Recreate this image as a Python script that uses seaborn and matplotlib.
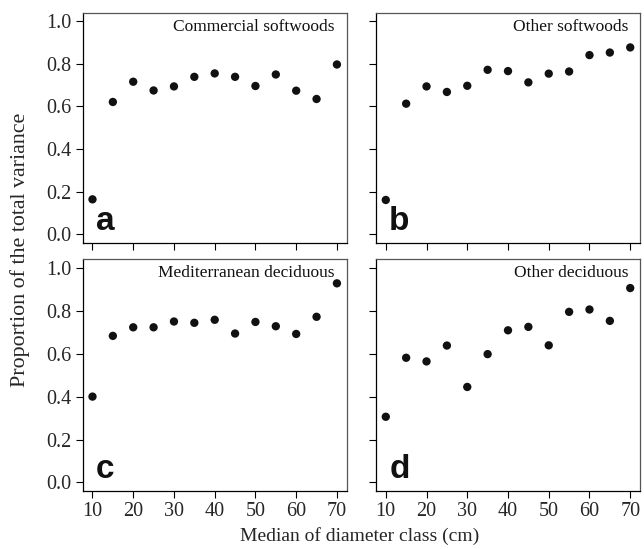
import matplotlib
matplotlib.use("Agg")
import matplotlib.pyplot as plt
import seaborn as sns

sns.set_theme(style="white")
plt.rcParams['font.family'] = ['Liberation Serif', 'DejaVu Serif']

# median of diameter class (cm)
diam = [10, 15, 20, 25, 30, 35, 40, 45, 50, 55, 60, 65, 70]

# proportion of the total variance per forest type
commercial_softwoods = [0.164, 0.621, 0.716, 0.675, 0.694, 0.739, 0.755, 0.739, 0.696, 0.750, 0.674, 0.635, 0.797]
other_softwoods = [0.161, 0.613, 0.694, 0.668, 0.697, 0.772, 0.766, 0.713, 0.754, 0.764, 0.841, 0.853, 0.877]
mediterranean_deciduous = [0.400, 0.683, 0.723, 0.723, 0.750, 0.744, 0.758, 0.694, 0.748, 0.728, 0.692, 0.772, 0.928]
other_deciduous = [0.306, 0.581, 0.564, 0.638, 0.445, 0.598, 0.709, 0.725, 0.639, 0.795, 0.806, 0.753, 0.906]

panels = [
    ("Commercial softwoods", "a", commercial_softwoods),
    ("Other softwoods", "b", other_softwoods),
    ("Mediterranean deciduous", "c", mediterranean_deciduous),
    ("Other deciduous", "d", other_deciduous),
]

yticks = [0.0, 0.2, 0.4, 0.6, 0.8, 1.0]
xticks = [10, 20, 30, 40, 50, 60, 70]

W, H = 644, 549
fig = plt.figure(figsize=(6.44, 5.49), dpi=100)

# axes boxes in pixels: left, right, top, bottom
boxes = [
    (82.7, 346.7, 12.7, 242.8),
    (376, 640, 12.7, 242.8),
    (82.7, 346.7, 259.3, 491),
    (376, 640, 259.3, 491),
]

for i, ((title, letter, vals), (l, r, t, b)) in enumerate(zip(panels, boxes)):
    ax = fig.add_axes([l / W, 1 - b / H, (r - l) / W, (b - t) / H])
    sns.scatterplot(x=diam, y=vals, ax=ax, color="#111111", s=36,
                    edgecolor="none", linewidth=0)
    ax.set_xlim(7.6, 72.4)
    ax.set_ylim(-0.04, 1.04)
    ax.set_xticks(xticks)
    ax.set_yticks(yticks)
    ax.tick_params(direction="out", length=5, width=0.8, color="black",
                   labelsize=14.5, pad=3, left=True, bottom=True)
    if i % 2 == 0:
        ax.set_yticklabels([f"{v:.1f}" for v in yticks])
    else:
        ax.set_yticklabels([])
    if i >= 2:
        ax.set_xticklabels([str(v) for v in xticks])
    else:
        ax.set_xticklabels([])
    for side in ["left", "bottom"]:
        ax.spines[side].set_color("black")
        ax.spines[side].set_linewidth(0.9)
    for side in ["top", "right"]:
        ax.spines[side].set_color("#555555")
        ax.spines[side].set_linewidth(0.9)
    ax.text(0.955, 0.94, title, transform=ax.transAxes, ha="right", va="center",
            fontsize=12.5, color="#111111")
    ax.text(0.05, 0.055, letter, transform=ax.transAxes, ha="left", va="baseline",
            fontsize=24, fontweight="bold", family="Liberation Sans", color="#111111")

fig.text(20 / W, 1 - 250 / H, "Proportion of the total variance",
         rotation=90, ha="center", va="center", fontsize=15.8)
fig.text(360 / W, 1 - 536 / H, "Median of diameter class (cm)",
         ha="center", va="center", fontsize=14)

fig.savefig("out.png", dpi=100)
